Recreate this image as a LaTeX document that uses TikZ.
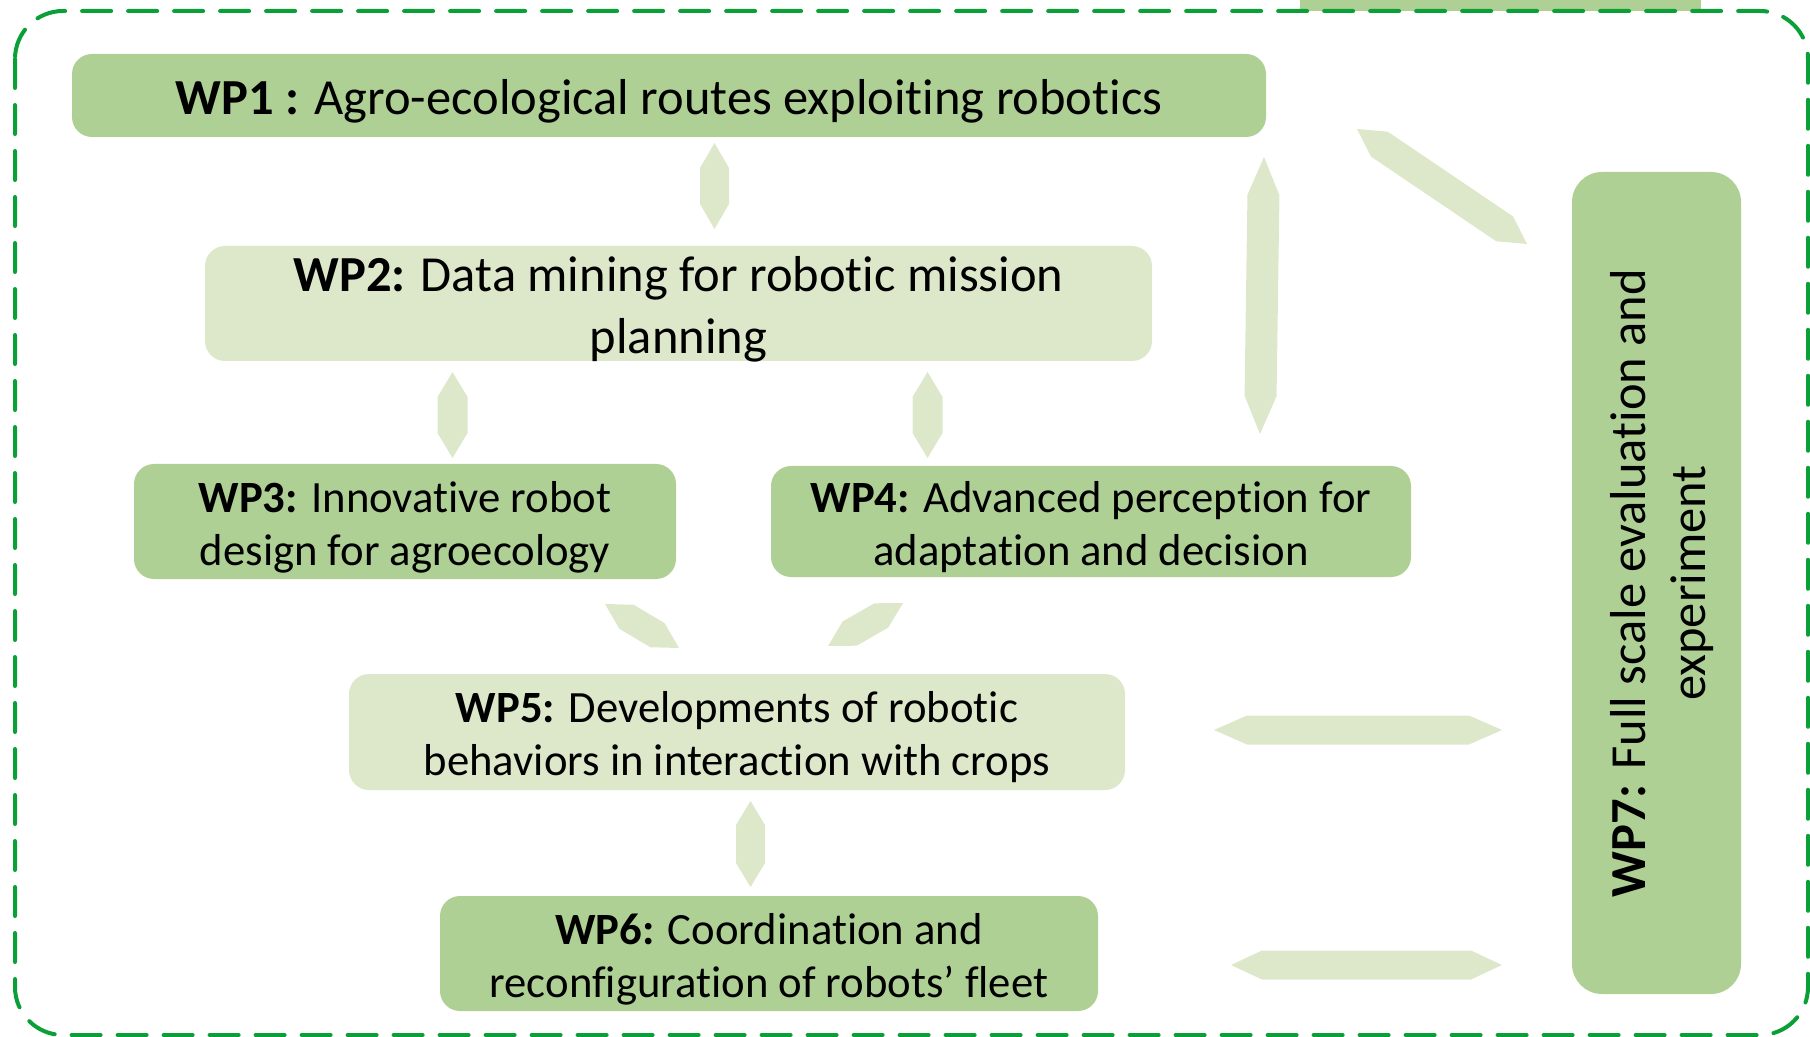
\documentclass[tikz,border=0pt]{standalone}
\usepackage{fontspec}
\setmainfont{Carlito}[Ligatures={TeX,NoCommon}]
\usetikzlibrary{calc}
\definecolor{wpgreen}{RGB}{175,208,149}
\definecolor{wplight}{RGB}{221,232,203}
\definecolor{frameg}{RGB}{10,160,55}
\newcommand\bigfont{\fontsize{25.25}{31}\selectfont}
\newcommand\medfont{\fontsize{22.35}{26.5}\selectfont}
% double block arrow between #1 and #2, half width #3, head length #4
\newcommand\dblarrow[4]{%
  \fill[wplight] (#1)
    -- ($(#1)!#4!(#2)!#3!90:(#2)$) -- ($(#2)!#4!(#1)!#3!-90:(#1)$)
    -- (#2)
    -- ($(#2)!#4!(#1)!#3!90:(#1)$) -- ($(#1)!#4!(#2)!#3!-90:(#2)$)
    -- cycle;%
}

\begin{document}
\begin{tikzpicture}[x=0.5pt,y=-0.5pt,
    wpbox/.style={rounded corners=10pt,inner sep=0pt},
    darkbox/.style={wpbox,fill=wpgreen},
    litebox/.style={wpbox,fill=wplight},
    wptext/.style={inner sep=0pt,align=center,font=\medfont}]
    \useasboundingbox (0,0) rectangle (1810,1037);

    % strip cut by the top edge
    \fill[wpgreen] (1300,-10) rectangle (1701,11);

    % dashed frame
    \draw[frameg,line width=2pt,line cap=round,
      dash pattern=on 14.5pt off 8.5pt,rounded corners=24pt]
      (15,11) rectangle (1808,1035);

    % boxes
    \node[darkbox,minimum width=597pt,minimum height=41.5pt] (wp1) at (669,95.5) {};
    \node[litebox,minimum width=473.5pt,minimum height=57.5pt] (wp2) at (678.5,303.5) {};
    \node[darkbox,minimum width=271pt,minimum height=57.5pt] (wp3) at (405,521.5) {};
    \node[darkbox,minimum width=320pt,minimum height=55.5pt] (wp4) at (1091,521.5) {};
    \node[litebox,minimum width=388pt,minimum height=58pt] (wp5) at (737,732) {};
    \node[darkbox,minimum width=329pt,minimum height=57.5pt] (wp6) at (769,953.5) {};
    \node[darkbox,rounded corners=15pt,minimum width=84.5pt,minimum height=411pt]
      (wp7) at (1656.5,583) {};

    % texts, set a little low in their boxes
    \node[wptext,font=\bigfont] (wp1txt) at ([yshift=-2.75pt]wp1.center)
      {\textbf{WP1 :} Agro-ecological routes exploiting robotics};
    \node[wptext,font=\bigfont] (wp2txt) at ([yshift=-2.75pt]wp2.center)
      {\textbf{WP2:} Data mining for robotic mission\\planning};
    \node[wptext] (wp3txt) at ([yshift=-2.75pt]wp3.center)
      {\textbf{WP3:} Innovative robot\\design for agroecology};
    \node[wptext] (wp4txt) at ([yshift=-2.75pt]wp4.center)
      {\textbf{WP4:} Advanced perception for\\adaptation and decision};
    \node[wptext] (wp5txt) at ([yshift=-2.75pt]wp5.center)
      {\textbf{WP5:} Developments of robotic\\behaviors in interaction with crops};
    \node[wptext] (wp6txt) at ([yshift=-2.75pt]wp6.center)
      {\textbf{WP6:} Coordination and\\reconfiguration of robots’ fleet};
    \node[wptext,rotate=90,font={\fontsize{25.25}{30}\selectfont}]
      (wp7txt) at ([xshift=2.75pt]wp7.center)
      {\textbf{WP7:} Full scale evaluation and\\experiment};

    % arrow ends
    \coordinate (a1) at (714.5,143);  \coordinate (b1) at (714.5,229);
    \coordinate (a2) at (452.5,372);  \coordinate (b2) at (452.5,458);
    \coordinate (a3) at (927.5,372);  \coordinate (b3) at (927.5,458);
    \coordinate (a4) at (1264,157);   \coordinate (b4) at (1260,434);
    \coordinate (a5) at (1357,129);   \coordinate (b5) at (1527,244);
    \coordinate (a6) at (605,604);    \coordinate (b6) at (679,648);
    \coordinate (a7) at (903,603);    \coordinate (b7) at (828,646);
    \coordinate (a8) at (750.5,801);  \coordinate (b8) at (750.5,887);
    \coordinate (a9) at (1214,730);   \coordinate (b9) at (1502,730);
    \coordinate (a10) at (1231,965);  \coordinate (b10) at (1502,965);

    \dblarrow{a1}{b1}{7.25pt}{12.5pt}
    \dblarrow{a2}{b2}{7.5pt}{12.5pt}
    \dblarrow{a3}{b3}{7.5pt}{12.5pt}
    \dblarrow{a4}{b4}{8pt}{19pt}
    \dblarrow{a5}{b5}{7.5pt}{13.5pt}
    \dblarrow{a6}{b6}{7pt}{12.5pt}
    \dblarrow{a7}{b7}{7pt}{12.5pt}
    \dblarrow{a8}{b8}{7.25pt}{12pt}
    \dblarrow{a9}{b9}{7.25pt}{16.5pt}
    \dblarrow{a10}{b10}{7.25pt}{15.5pt}
\end{tikzpicture}
\end{document}
